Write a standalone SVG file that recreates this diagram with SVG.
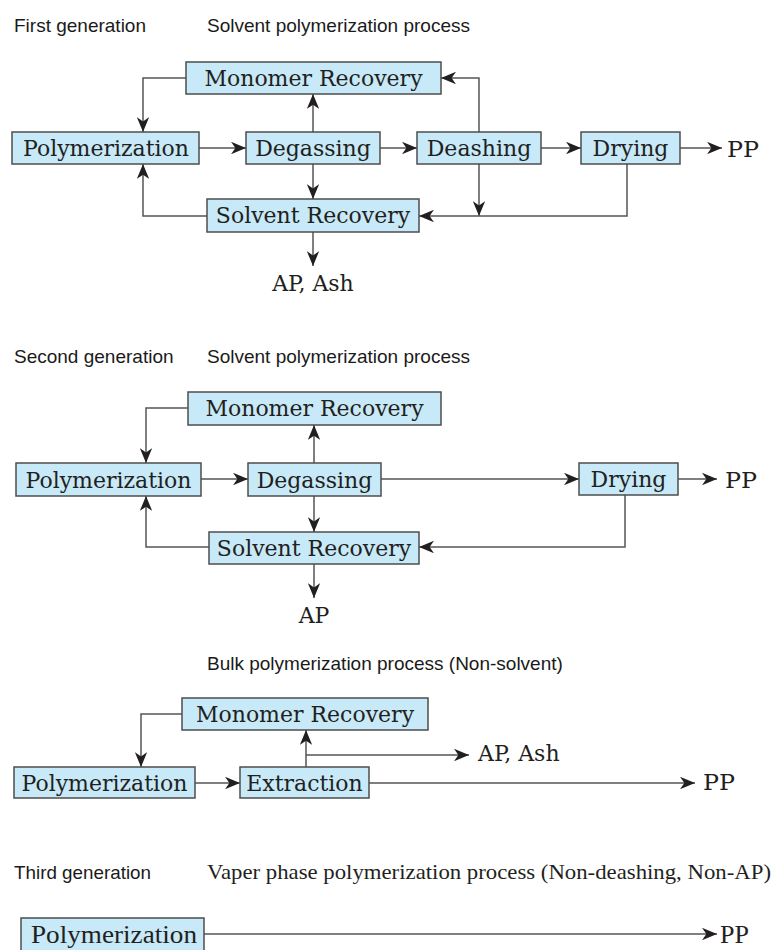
<svg xmlns="http://www.w3.org/2000/svg" width="779" height="950" viewBox="0 0 779 950">
<style>
.bx{fill:#c7e9f8;stroke:#4d4d4d;stroke-width:1.5}
.bt{font-family:"DejaVu Serif",serif;font-size:22px;fill:#231f20;text-anchor:middle}
.st{font-family:"DejaVu Serif",serif;font-size:22px;fill:#231f20}
.lbl{font-family:"Liberation Sans",Arial,sans-serif;font-size:19px;fill:#1a1a1a}
.tm{font-family:"Liberation Serif","Times New Roman",serif;fill:#231f20}
.ln{fill:none;stroke:#555;stroke-width:1.5;marker-end:url(#ah)}
</style>
<defs>
<marker id="ah" viewBox="0 0 12 10" refX="12" refY="5" markerWidth="15" markerHeight="12.5" markerUnits="userSpaceOnUse" orient="auto">
<path d="M0,0 L12,5 L0,10 L3.5,5 z" fill="#231f20"/>
</marker>
</defs>
<rect width="779" height="950" fill="#fff"/>

<g id="titles">
<text class="lbl" x="14" y="32">First generation</text>
<text class="lbl" x="207" y="32">Solvent polymerization process</text>
<text class="lbl" x="14" y="363">Second generation</text>
<text class="lbl" x="207" y="363">Solvent polymerization process</text>
<text class="lbl" x="207" y="670">Bulk polymerization process (Non-solvent)</text>
<text class="lbl" x="14" y="879" textLength="137" lengthAdjust="spacingAndGlyphs">Third generation</text>
<text class="tm" x="207" y="879" font-size="21" textLength="564" lengthAdjust="spacingAndGlyphs">Vaper phase polymerization process (Non-deashing, Non-AP)</text>
</g>

<g id="connectors">
<path class="ln" d="M186,78 H143 V132"/>
<path class="ln" d="M199,148 H246"/>
<path class="ln" d="M313,132 V94"/>
<path class="ln" d="M313,164 V199"/>
<path class="ln" d="M207,216 H143 V164"/>
<path class="ln" d="M313,232 V266"/>
<path class="ln" d="M380,148 H417"/>
<path class="ln" d="M479,132 V78 H441"/>
<path class="ln" d="M479,164 V216"/>
<path class="ln" d="M627,164 V216 H419"/>
<path class="ln" d="M541,148 H581"/>
<path class="ln" d="M680,148 H722"/>

<path class="ln" d="M188,408 H146 V463"/>
<path class="ln" d="M201,479 H248"/>
<path class="ln" d="M314,463 V425"/>
<path class="ln" d="M314,496 V532"/>
<path class="ln" d="M209,547 H146 V496"/>
<path class="ln" d="M314,564 V598"/>
<path class="ln" d="M381,479 H579"/>
<path class="ln" d="M678,479 H717"/>
<path class="ln" d="M625,495 V547 H419"/>

<path class="ln" d="M182,714 H141 V767"/>
<path class="ln" d="M195,783 H240"/>
<path class="ln" d="M306,767 V730"/>
<path class="ln" d="M306,755 H469"/>
<path class="ln" d="M369,783 H695"/>

<path class="ln" d="M204,934 H717"/>
</g>

<g id="g1-monomer"><rect class="bx" x="186" y="62" width="255" height="32"/><text class="bt" x="313.5" y="86">Monomer Recovery</text></g>
<g id="g1-poly"><rect class="bx" x="12" y="132" width="187" height="32"/><text class="bt" x="106" y="156">Polymerization</text></g>
<g id="g1-degas"><rect class="bx" x="246" y="132" width="134" height="32"/><text class="bt" x="313" y="156">Degassing</text></g>
<g id="g1-deash"><rect class="bx" x="417" y="132" width="124" height="32"/><text class="bt" x="479" y="156">Deashing</text></g>
<g id="g1-dry"><rect class="bx" x="581" y="132" width="99" height="32"/><text class="bt" x="630.5" y="156">Drying</text></g>
<g id="g1-solvent"><rect class="bx" x="207" y="199" width="212" height="33"/><text class="bt" x="313" y="223">Solvent Recovery</text></g>
<g id="g1-pp"><text class="st" x="727" y="157" textLength="32" lengthAdjust="spacingAndGlyphs">PP</text></g>
<g id="g1-ap"><text class="bt" x="313" y="291">AP, Ash</text></g>

<g id="g2-monomer"><rect class="bx" x="188" y="392" width="253" height="33"/><text class="bt" x="314.5" y="416">Monomer Recovery</text></g>
<g id="g2-poly"><rect class="bx" x="16" y="463" width="185" height="33"/><text class="bt" x="108.5" y="488">Polymerization</text></g>
<g id="g2-degas"><rect class="bx" x="248" y="463" width="133" height="33"/><text class="bt" x="314.5" y="488">Degassing</text></g>
<g id="g2-dry"><rect class="bx" x="579" y="463" width="99" height="32"/><text class="bt" x="628.5" y="487">Drying</text></g>
<g id="g2-solvent"><rect class="bx" x="209" y="532" width="210" height="32"/><text class="bt" x="314" y="556">Solvent Recovery</text></g>
<g id="g2-pp"><text class="st" x="725" y="488" textLength="32" lengthAdjust="spacingAndGlyphs">PP</text></g>
<g id="g2-ap"><text class="bt" x="314" y="623">AP</text></g>

<g id="g3-monomer"><rect class="bx" x="182" y="698" width="246" height="32"/><text class="bt" x="305" y="722">Monomer Recovery</text></g>
<g id="g3-poly"><rect class="bx" x="14" y="767" width="181" height="31"/><text class="bt" x="104.5" y="791">Polymerization</text></g>
<g id="g3-extr"><rect class="bx" x="240" y="767" width="129" height="31"/><text class="bt" x="304.5" y="791">Extraction</text></g>
<g id="g3-ap"><text class="st" x="478" y="761">AP, Ash</text></g>
<g id="g3-pp"><text class="st" x="703" y="790" textLength="32" lengthAdjust="spacingAndGlyphs">PP</text></g>

<g id="g4-poly"><rect class="bx" x="21" y="918" width="183" height="34"/><text class="tm" x="31" y="943" font-size="26" textLength="166" lengthAdjust="spacingAndGlyphs">Polymerization</text></g>
<g id="g4-pp"><text class="tm" x="720" y="943" font-size="26">PP</text></g>
</svg>
